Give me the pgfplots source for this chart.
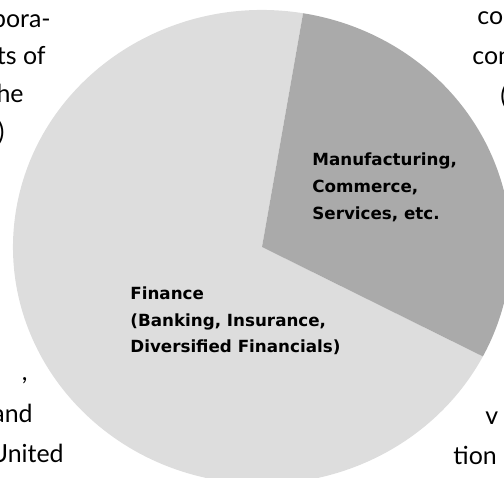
\documentclass[border=0pt]{standalone}
\usepackage{pgfplots}
\usepackage{pgfplotstable}
\pgfplotsset{compat=1.18}
\usepackage{fontspec}
\setmainfont{Lato}
\newfontfamily\labelfont{DejaVu Sans}
\definecolor{finance}{RGB}{221,221,221}
\definecolor{manuf}{RGB}{170,170,170}
\pgfplotstableread{
sector share
Manufacturing 30
Finance 70
}\piedata
\pgfplotstablegetelem{0}{share}\of\piedata
\let\vmanuf\pgfplotsretval
\pgfplotstablegetelem{1}{share}\of\piedata
\let\vfin\pgfplotsretval
\pgfmathsetmacro{\aend}{80.5}
\pgfmathsetmacro{\astart}{\aend-3.6*\vmanuf}
\pgfmathsetmacro{\fend}{\aend+3.6*\vfin}
\newcommand{\lbl}{\labelfont\bfseries\fontsize{8.4}{13}\selectfont}
\newcommand{\body}{\fontsize{12.5}{19}\selectfont}
\begin{document}
\begin{tikzpicture}[x=0.5bp,y=0.5bp]
\begin{scope}
\clip (0,0) rectangle (504,478);
\begin{axis}[at={(131bp,115.5bp)}, anchor=origin, hide axis, scale only axis,
  width=249bp, height=237bp, xmin=-1, xmax=1, ymin=-1, ymax=1, clip=false]
\addplot[draw=none] coordinates {(0,0)};
\fill[finance] (axis cs:0,0) -- (axis cs:{cos(\aend)},{sin(\aend)})
  arc[start angle=\aend, end angle=\fend, x radius=124.5bp, y radius=118.5bp] -- cycle;
\fill[manuf] (axis cs:0,0) -- (axis cs:{cos(\astart)},{sin(\astart)})
  arc[start angle=\astart, end angle=\aend, x radius=124.5bp, y radius=118.5bp] -- cycle;
\end{axis}
% labels
\node[anchor=base west, inner sep=0, font=\lbl] at (312,478-166) {Manufacturing,};
\node[anchor=base west, inner sep=0, font=\lbl] at (312,478-193) {Commerce,};
\node[anchor=base west, inner sep=0, font=\lbl] at (312,478-220) {Services, etc.};
\node[anchor=base west, inner sep=0, font=\lbl] at (130,478-300) {Finance};
\node[anchor=base west, inner sep=0, font=\lbl] at (130,478-326.5) {(Banking, Insurance,};
\node[anchor=base west, inner sep=0, font=\lbl] at (130,478-353) {Diversified Financials)};
% surrounding page text
\node[anchor=base east, inner sep=0, font=\body] at (51,478-28) {corpora-};
\node[anchor=base east, inner sep=0, font=\body] at (46,478-65) {rights of};
\node[anchor=base east, inner sep=0, font=\body] at (24,478-103) {the};
\node[anchor=base east, inner sep=0, font=\body] at (5,478-141) {to)};
\node[anchor=base east, inner sep=0, font=\body] at (28,478-381) {,};
\node[anchor=base east, inner sep=0, font=\body] at (33,478-423) {and};
\node[anchor=base east, inner sep=0, font=\body] at (64,478-463) {United};
\node[anchor=base west, inner sep=0, font=\body] at (477,478-25) {corporations};
\node[anchor=base west, inner sep=0, font=\body] at (472,478-65) {control};
\node[anchor=base west, inner sep=0, font=\body] at (500,478-105) {(the};
\node[anchor=base west, inner sep=0, font=\body] at (485,478-425) {v};
\node[anchor=base west, inner sep=0, font=\body] at (453,478-465) {tion};
\end{scope}
\pgfresetboundingbox
\path[use as bounding box] (0,0) rectangle (504,478);
\end{tikzpicture}
\end{document}
